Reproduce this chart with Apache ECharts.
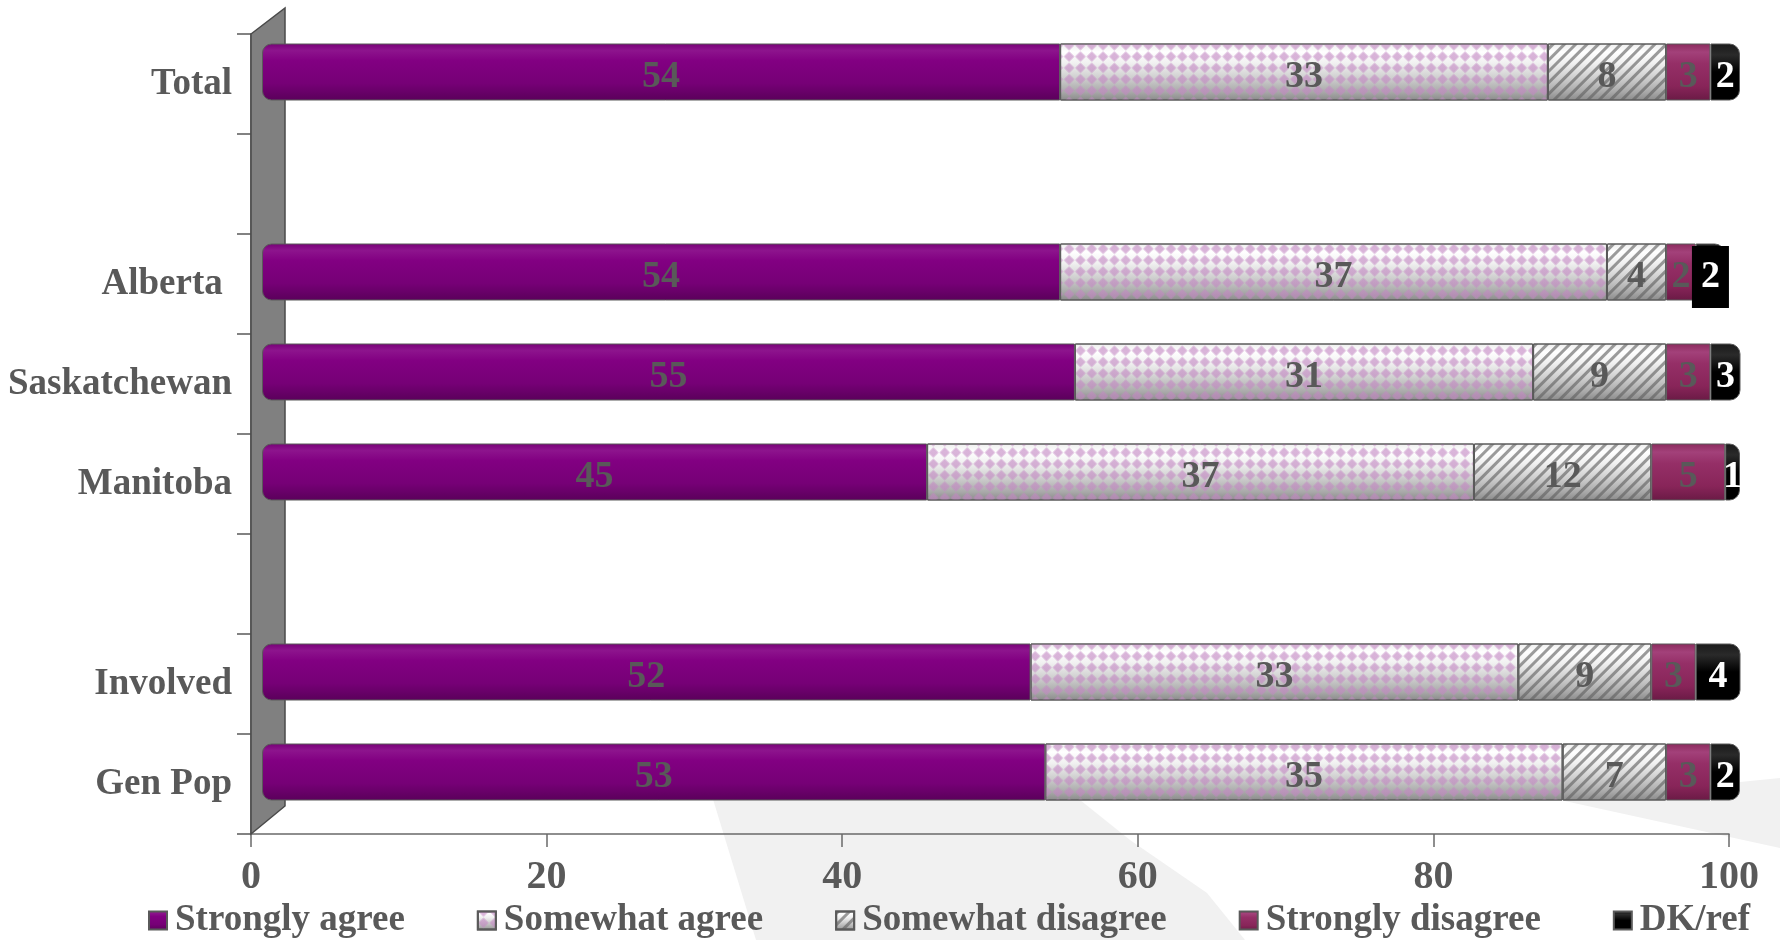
<!DOCTYPE html>
<html><head><meta charset="utf-8">
<script src="https://cdn.jsdelivr.net/npm/echarts@6/dist/echarts.min.js"></script>
<style>html,body{margin:0;padding:0;background:#fff}#c{width:1780px;height:940px}</style>
</head><body><div id="c"></div>
<script>
const categories = ['Total', '', 'Alberta ', 'Saskatchewan', 'Manitoba', '', 'Involved', 'Gen Pop'];
const seriesNames = ['Strongly agree', 'Somewhat agree', 'Somewhat disagree', 'Strongly disagree', 'DK/ref'];
const stronglyAgree    = [54, null, 54, 55, 45, null, 52, 53];
const somewhatAgree    = [33, null, 37, 31, 37, null, 33, 35];
const somewhatDisagree = [8,  null, 4,  9,  12, null, 9,  7];
const stronglyDisagree = [3,  null, 2,  3,  5,  null, 3,  3];
const dkRef            = [2,  null, 2,  3,  1,  null, 4,  2];
const xMin = 0, xMax = 100, xStep = 20;

const FONT = '"Liberation Serif", "Times New Roman", serif';
const GREY = '#595959';

function vgrad(stops) {
  return { type: 'linear', x: 0, y: 0, x2: 0, y2: 1,
    colorStops: stops.map(s => ({ offset: s[0], color: s[1] })) };
}
const greyCyl = vgrad([[0, '#eeeeee'], [0.15, '#ffffff'], [0.35, '#f0f0f0'], [0.6, '#cfcfcf'], [0.85, '#a9a9a9'], [1, '#8a8a8a']]);

const styles = [
  { color: vgrad([[0, '#760076'], [0.12, '#8d148d'], [0.3, '#820082'], [0.7, '#760076'], [1, '#5a005a']]) },
  { color: greyCyl,
    decal: { symbol: 'rect', symbolSize: 0.92, color: 'rgba(195,135,195,0.62)', backgroundColor: null,
             dashArrayX: [[7.5, 7.5], [0, 7.5, 7.5, 0]], dashArrayY: [7.5, 0], rotation: Math.PI / 4 } },
  { color: greyCyl,
    decal: { symbol: 'rect', symbolSize: 1, color: 'rgba(95,95,95,0.62)', backgroundColor: null,
             dashArrayX: [1, 0], dashArrayY: [2.8, 4.6], rotation: -Math.PI / 4 } },
  { color: vgrad([[0, '#8a2a5c'], [0.15, '#a3417a'], [0.35, '#952f67'], [0.75, '#882559'], [1, '#6a1a45']]) },
  { color: vgrad([[0, '#1a1a1a'], [0.2, '#2a2a2a'], [0.5, '#000000'], [1, '#000000']]) }
];
const dataSets = [stronglyAgree, somewhatAgree, somewhatDisagree, stronglyDisagree, dkRef];
const radii = [[9, 0, 0, 9], 0, 0, 0, [0, 10, 10, 0]];

const series = seriesNames.map((name, i) => ({
  name, type: 'bar', stack: 'total', xAxisIndex: 1, yAxisIndex: 1,
  barWidth: 57, z: 3,
  data: dataSets[i].map((v, idx) => (i === 4 && idx === 2)
    ? { value: v, label: { backgroundColor: '#000000', padding: [4, 9, 20, 9] } }
    : v),
  itemStyle: Object.assign({ borderColor: '#5a5a5a', borderWidth: 1, borderRadius: radii[i] }, styles[i]),
  label: { show: true, position: 'inside', formatter: '{c}', offset: [0, 5],
    color: i === 4 ? '#ffffff' : GREY, fontFamily: FONT, fontWeight: 'bold', fontSize: 38 },
  emphasis: { disabled: true }
}));

const chart = echarts.init(document.getElementById('c'), null, { renderer: 'canvas' });
chart.setOption({
  animation: false,
  backgroundColor: '#ffffff',
  grid: [
    { left: 251, right: 51, top: 34, bottom: 106 },
    { left: 262, right: 40, top: 22, bottom: 118 }
  ],
  xAxis: [
    { gridIndex: 0, type: 'value', min: xMin, max: xMax, interval: xStep,
      splitLine: { show: false },
      axisLine: { show: true, lineStyle: { color: '#6a6a6a', width: 1.5 } },
      axisTick: { show: true, length: 13, lineStyle: { color: '#6a6a6a', width: 1.5 } },
      axisLabel: { margin: 24, color: GREY, fontFamily: FONT, fontWeight: 'bold', fontSize: 40 } },
    { gridIndex: 1, type: 'value', min: xMin, max: xMax, interval: xStep, show: false }
  ],
  yAxis: [
    { gridIndex: 0, type: 'category', data: categories, inverse: true,
      axisLine: { show: true, lineStyle: { color: '#5a5a5a', width: 1.5 } },
      axisTick: { show: true, length: 14, lineStyle: { color: '#5a5a5a', width: 1.5 } },
      axisLabel: { margin: 19, color: GREY, fontFamily: FONT, fontWeight: 'bold', fontSize: 37 } },
    { gridIndex: 1, type: 'category', data: categories, inverse: true, show: false }
  ],
  legend: {
    data: seriesNames, left: 148, top: 902, padding: 0, icon: 'rect', itemWidth: 18, itemHeight: 18, itemGap: 72,
    textStyle: { color: GREY, fontFamily: FONT, fontWeight: 'bold', fontSize: 37, padding: [0, 0, 0, 3] }
  },
  graphic: [
    { type: 'polygon', z: -10, silent: true,
      shape: { points: [[712, 796], [1075, 796], [1130, 840], [1207, 893], [1245, 940], [756, 940]] },
      style: { fill: '#f1f1f1' } },
    { type: 'polygon', z: -10, silent: true,
      shape: { points: [[1560, 800], [1780, 778], [1780, 848]] },
      style: { fill: '#f1f1f1' } },
    { type: 'polygon', z: 1, silent: true,
      shape: { points: [[251, 34], [285, 8], [285, 806], [251, 834]] },
      style: { fill: '#808080', stroke: '#4a4a4a', lineWidth: 1.5 } }
  ],
  series
});
</script></body></html>
